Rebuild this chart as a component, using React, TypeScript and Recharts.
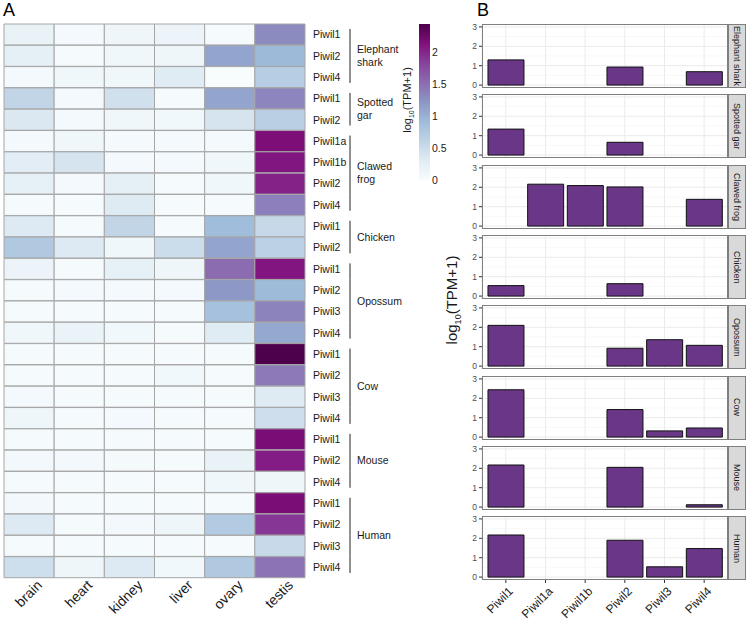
import React from "react";
import { Bar, BarChart, CartesianGrid, Cell, XAxis, YAxis } from "recharts";

const FONT = '"Liberation Sans", Arial, sans-serif';

const tissues = ["brain", "heart", "kidney", "liver", "ovary", "testis"];
const species = ["Elephant shark", "Spotted gar", "Clawed frog", "Chicken", "Opossum", "Cow", "Mouse", "Human"];
const speciesLines = [["Elephant", "shark"], ["Spotted", "gar"], ["Clawed", "frog"], ["Chicken"], ["Opossum"], ["Cow"], ["Mouse"], ["Human"]];
const geneCats = ["Piwil1", "Piwil1a", "Piwil1b", "Piwil2", "Piwil3", "Piwil4"];

// one entry per heatmap row (top to bottom)
const rowSpecies = [0, 0, 0, 1, 1, 2, 2, 2, 2, 3, 3, 4, 4, 4, 4, 5, 5, 5, 5, 6, 6, 6, 7, 7, 7, 7];
const rowGenes = [
  "Piwil1", "Piwil2", "Piwil4",
  "Piwil1", "Piwil2",
  "Piwil1a", "Piwil1b", "Piwil2", "Piwil4",
  "Piwil1", "Piwil2",
  "Piwil1", "Piwil2", "Piwil3", "Piwil4",
  "Piwil1", "Piwil2", "Piwil3", "Piwil4",
  "Piwil1", "Piwil2", "Piwil4",
  "Piwil1", "Piwil2", "Piwil3", "Piwil4",
];

// log10(TPM+1) per row
const brain = [0.2, 0.25, 0.05, 0.58, 0.35, 0.05, 0.28, 0.22, 0.03, 0.33, 0.75, 0.15, 0.02, 0.03, 0.1, 0.02, 0.02, 0.05, 0.12, 0.02, 0.07, 0.02, 0.07, 0.33, 0.02, 0.48];
const heart = [0.05, 0.03, 0.1, 0.05, 0.05, 0.1, 0.4, 0.05, 0.03, 0.03, 0.33, 0.03, 0.05, 0.03, 0.18, 0.02, 0.02, 0.03, 0.03, 0.02, 0.07, 0.02, 0.02, 0.03, 0.02, 0.12];
const kidney = [0.12, 0.1, 0.1, 0.45, 0.1, 0.05, 0.05, 0.25, 0.32, 0.58, 0.1, 0.22, 0.05, 0.03, 0.08, 0.02, 0.02, 0.03, 0.05, 0.02, 0.04, 0.02, 0.02, 0.07, 0.02, 0.33];
const liver = [0.15, 0.12, 0.3, 0.03, 0.08, 0.05, 0.05, 0.03, 0.03, 0.03, 0.5, 0.12, 0.05, 0.03, 0.03, 0.02, 0.08, 0.03, 0.03, 0.02, 0.03, 0.02, 0.02, 0.12, 0.02, 0.08];
const ovary = [0.02, 1.1, 0.0, 1.1, 0.4, 0.05, 0.1, 0.1, 0.03, 0.9, 1.1, 1.52, 1.2, 0.85, 0.3, 0.02, 0.02, 0.03, 0.03, 0.02, 0.2, 0.1, 0.02, 0.72, 0.02, 0.75];
const testis = [1.3, 0.93, 0.69, 1.34, 0.66, 2.16, 2.09, 2.02, 1.38, 0.54, 0.64, 2.1, 0.92, 1.36, 1.07, 2.44, 1.42, 0.32, 0.47, 2.17, 2.05, 0.12, 2.17, 1.9, 0.53, 1.47];

const heat: Record<string, number[]> = { brain, heart, kidney, liver, ovary, testis };
const maxV = Math.max(...tissues.flatMap((t) => heat[t]));

const bupuStops = ["#f7fcfd", "#e0ecf4", "#bfd3e6", "#9ebcda", "#8c96c6", "#8c6bb1", "#88419d", "#810f7c", "#4d004b"];

const hex = (c: string) => [1, 3, 5].map((k) => parseInt(c.slice(k, k + 2), 16));
const bupu = (v: number) => {
  const t = Math.max(0, Math.min(1, v / maxV)) * 8;
  const i = Math.min(7, Math.floor(t));
  const f = t - i;
  const a = hex(bupuStops[i]);
  const b = hex(bupuStops[i + 1]);
  return `rgb(${a.map((x, k) => Math.round(x + (b[k] - x) * f)).join(",")})`;
};

const heatRows = rowGenes.map((g, i) => ({ id: String(i), brain: 1, heart: 1, kidney: 1, liver: 1, ovary: 1, testis: 1 }));

const facetData = species.map((_, s) =>
  geneCats.map((g) => {
    const i = rowGenes.findIndex((rg, k) => rg === g && rowSpecies[k] === s);
    return { gene: g, v: i >= 0 ? testis[i] : null };
  })
);

const HEAT_TOP = 24;
const HEAT_H = 554;
const ROW_H = HEAT_H / rowGenes.length;

const FACET_TOP = 24;
const FACET_PITCH = 70.3;
const PANEL_H = 64;

function RowTick(props: any) {
  const { x, y, payload } = props;
  const i = Number(payload.value);
  const s = rowSpecies[i];
  const first = i === 0 || rowSpecies[i - 1] !== s;
  const last = i === rowSpecies.length - 1 || rowSpecies[i + 1] !== s;
  const n = rowSpecies.filter((r) => r === s).length;
  const lx = x + 45;
  const cy = y + ((n - 1) * ROW_H) / 2;
  const lines = speciesLines[s];
  return (
    <g>
      <text x={x + 8} y={y} dy="0.35em" fontSize={10.5} fill="#1a1a1a" fontFamily={FONT}>
        {rowGenes[i]}
      </text>
      <line x1={lx} x2={lx} y1={y - ROW_H / 2 + (first ? 5 : 0)} y2={y + ROW_H / 2 - (last ? 5 : 0)} stroke="#222" strokeWidth={1} />
      {first &&
        lines.map((t, k) => (
          <text key={k} x={lx + 7} y={cy + (k - (lines.length - 1) / 2) * 13} dy="0.35em" fontSize={10.5} fill="#1a1a1a" fontFamily={FONT}>
            {t}
          </text>
        ))}
    </g>
  );
}

function TissueTick(props: any) {
  const { x, y, payload } = props;
  const ax = x + 14;
  const ay = y + 8;
  return (
    <text x={ax} y={ay} transform={`rotate(-45 ${ax} ${ay})`} textAnchor="end" fontSize={14} fill="#1a1a1a" fontFamily={FONT}>
      {tissues[Math.floor(payload.value)]}
    </text>
  );
}

function GeneTick(props: any) {
  const { x, y, payload } = props;
  const ax = x + 8;
  const ay = y + 7;
  return (
    <text x={ax} y={ay} transform={`rotate(-45 ${ax} ${ay})`} textAnchor="end" fontSize={12} fill="#1a1a1a" fontFamily={FONT}>
      {payload.value}
    </text>
  );
}

function Facet({ s, last }: { s: number; last: boolean }) {
  const top = FACET_TOP + s * FACET_PITCH;
  const h = PANEL_H + 2 + (last ? 42 : 2);
  return (
    <div style={{ position: "absolute", left: 460, top: top - 2, width: 288, height: h }}>
      <BarChart
        width={268}
        height={h}
        data={facetData[s]}
        margin={{ top: 2, right: 0, left: 0, bottom: last ? 0 : 2 }}
        barCategoryGap="5%"
        style={{ overflow: "visible" }}
      >
        <CartesianGrid horizontalValues={[0.5, 1.5, 2.5]} vertical={false} stroke="#f3f3f3" strokeWidth={0.6} />
        <CartesianGrid horizontalValues={[0, 1, 2, 3]} stroke="#ebebeb" />
        <XAxis
          dataKey="gene"
          hide={!last}
          padding={{ left: 4, right: 4 }}
          interval={0}
          height={42}
          tickSize={3}
          axisLine={false}
          tickLine={{ stroke: "#333" }}
          tick={<GeneTick />}
        />
        <YAxis
          domain={[-0.15, 3.15]}
          ticks={[0, 1, 2, 3]}
          interval={0}
          allowDataOverflow
          width={22}
          axisLine={false}
          tickSize={3}
          tickMargin={2}
          tickLine={{ stroke: "#333" }}
          tick={{ fontSize: 8.5, fill: "#4d4d4d", fontFamily: FONT }}
        />
        <Bar dataKey="v" fill="#6a3788" stroke="#111" strokeWidth={1} isAnimationActive={false} />
      </BarChart>
      <div
        style={{
          position: "absolute",
          left: 22,
          top: 2,
          width: 246,
          height: PANEL_H,
          border: "1px solid #7f7f7f",
          boxSizing: "border-box",
          pointerEvents: "none",
        }}
      />
      <div
        style={{
          position: "absolute",
          left: 268,
          top: 2,
          width: 18,
          height: PANEL_H,
          background: "#d9d9d9",
          border: "1px solid #7f7f7f",
          boxSizing: "border-box",
          display: "flex",
          alignItems: "center",
          justifyContent: "center",
          overflow: "visible",
        }}
      >
        <span style={{ writingMode: "vertical-rl", fontSize: 9, color: "#1a1a1a", whiteSpace: "nowrap", fontFamily: FONT }}>
          {species[s]}
        </span>
      </div>
    </div>
  );
}

export default function App() {
  return (
    <div style={{ position: "absolute", left: 0, top: 0, width: 749, height: 622, background: "#fff", fontFamily: FONT, overflow: "hidden" }}>
      <div style={{ position: "absolute", left: 3, top: 0, fontSize: 18, color: "#000" }}>A</div>
      <div style={{ position: "absolute", left: 477, top: 0, fontSize: 18, color: "#000" }}>B</div>

      {/* heatmap */}
      <div style={{ position: "absolute", left: 0, top: 0 }}>
        <BarChart
          width={410}
          height={622}
          data={heatRows}
          layout="vertical"
          margin={{ top: HEAT_TOP, right: 0, left: 4, bottom: 0 }}
          barCategoryGap={0}
        >
          <XAxis
            type="number"
            domain={[0, 6]}
            ticks={[0.5, 1.5, 2.5, 3.5, 4.5, 5.5]}
            interval={0}
            height={44}
            axisLine={false}
            tickLine={false}
            tickSize={0}
            tickMargin={0}
            tick={<TissueTick />}
          />
          <YAxis
            type="category"
            dataKey="id"
            orientation="right"
            width={105}
            interval={0}
            axisLine={false}
            tickLine={false}
            tickSize={0}
            tickMargin={0}
            tick={<RowTick />}
          />
          {tissues.map((t) => (
            <Bar key={t} dataKey={t} stackId="h" stroke="#a6a6a6" strokeWidth={1} isAnimationActive={false}>
              {heat[t].map((v, i) => (
                <Cell key={i} fill={bupu(v)} />
              ))}
            </Bar>
          ))}
        </BarChart>
      </div>

      {/* colour bar */}
      <div style={{ position: "absolute", left: 380, top: 0 }}>
        <BarChart width={80} height={192} data={[{ k: "scale", v: maxV }]} margin={{ top: 24, right: 0, left: 39, bottom: 12 }} barCategoryGap={0}>
          <defs>
            <linearGradient id="bupuGrad" x1="0" y1="1" x2="0" y2="0">
              {bupuStops.map((c, k) => (
                <stop key={k} offset={`${(k / 8) * 100}%`} stopColor={c} />
              ))}
            </linearGradient>
          </defs>
          <XAxis dataKey="k" hide />
          <YAxis
            orientation="right"
            domain={[0, maxV]}
            ticks={[0, 0.5, 1, 1.5, 2]}
            interval={0}
            width={30}
            axisLine={false}
            tickLine={false}
            tickSize={0}
            tickMargin={2}
            tick={{ fontSize: 10.5, fill: "#1a1a1a", fontFamily: FONT }}
          />
          <Bar dataKey="v" fill="url(#bupuGrad)" isAnimationActive={false} />
        </BarChart>
      </div>
      <svg style={{ position: "absolute", left: 396, top: 40 }} width={24} height={120}>
        <text transform="translate(15 60) rotate(-90)" textAnchor="middle" fontSize={11} fill="#1a1a1a" fontFamily={FONT}>
          log<tspan fontSize={7} dy={3}>10</tspan>
          <tspan dy={-3}>(TPM+1)</tspan>
        </text>
      </svg>

      {/* faceted bars */}
      {species.map((_, s) => (
        <Facet key={s} s={s} last={s === species.length - 1} />
      ))}
      <svg style={{ position: "absolute", left: 438, top: 200 }} width={26} height={200}>
        <text transform="translate(19 100) rotate(-90)" textAnchor="middle" fontSize={15} fill="#1a1a1a" fontFamily={FONT}>
          log<tspan fontSize={9} dy={4}>10</tspan>
          <tspan dy={-4}>(TPM+1)</tspan>
        </text>
      </svg>
    </div>
  );
}
